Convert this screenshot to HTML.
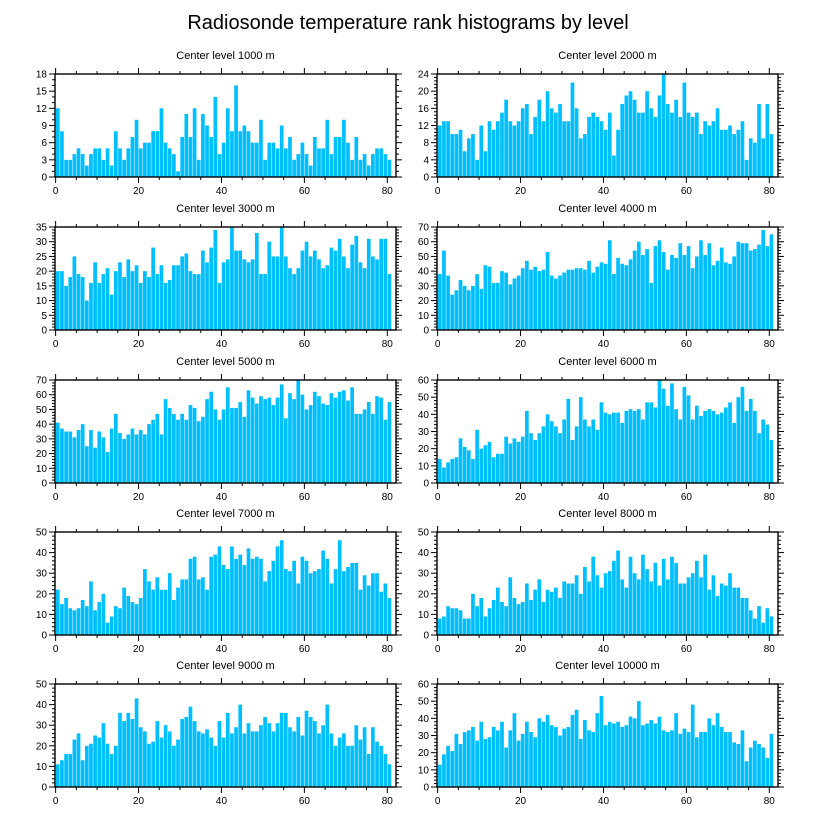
<!DOCTYPE html>
<html><head><meta charset="utf-8">
<style>
html,body{margin:0;padding:0;background:#fff;}
svg{display:block;font-family:"Liberation Sans",sans-serif;}
</style></head>
<body>
<svg id="chart" width="816" height="824" viewBox="0 0 816 824" xmlns="http://www.w3.org/2000/svg">
<text x="408" y="29" text-anchor="middle" font-size="20">Radiosonde temperature rank histograms by level</text>
</svg>
<script>
const levels = ["1000","2000","3000","4000","5000","6000","7000","8000","9000","10000"];
const yMaxes = [18,24,35,70,70,60,50,50,50,60];
const yTickSteps = [3,4,5,10,10,10,10,10,10,10];
const xTicks = [0,20,40,60,80];
const counts1000 = [12,8,3,3,4,5,4,2,4,5,5,3,5,2,8,5,3,5,7,10,5,6,6,8,8,12,6,5,4,1,7,11,7,12,3,11,9,7,14,4,6,12,8,16,8,9,8,6,6,10,3,6,6,5,9,5,7,3,4,6,4,2,7,5,5,10,4,7,7,10,6,3,7,3,4,2,4,5,5,4,3];
const counts2000 = [12,13,13,10,10,11,6,9,10,4,12,6,13,11,13,15,18,13,12,13,16,17,10,14,18,13,20,16,15,17,13,13,22,16,9,10,14,15,14,13,11,15,5,11,17,19,20,18,15,15,20,16,14,19,24,17,15,18,14,22,15,14,15,10,13,12,13,16,11,11,12,10,11,13,4,9,8,17,9,17,10];
const counts3000 = [20,20,15,18,25,19,18,10,16,23,16,19,21,12,20,23,18,24,20,22,16,20,18,28,19,22,16,17,22,22,25,26,20,19,19,27,23,28,34,16,23,24,35,27,27,24,23,24,33,19,19,30,25,25,35,25,21,19,21,27,30,25,27,24,21,22,28,27,31,25,21,29,32,23,21,31,25,24,31,31,19];
const counts4000 = [38,54,37,24,27,34,30,27,30,38,28,44,43,32,32,40,39,31,35,37,42,47,41,43,40,41,53,37,35,37,39,41,41,42,42,41,47,39,43,46,45,61,38,49,45,44,48,54,60,51,55,32,57,61,53,41,51,49,59,51,57,42,50,61,51,59,44,47,56,46,45,50,60,59,59,54,55,58,68,57,65];
const counts5000 = [41,37,35,35,31,36,40,25,36,24,35,31,21,37,47,34,30,33,37,33,36,33,40,43,47,33,57,51,47,43,47,43,53,51,42,45,57,62,50,43,50,65,51,51,55,45,63,58,54,59,57,58,53,58,67,44,61,57,70,60,50,53,62,59,54,53,61,58,62,63,56,65,47,47,50,55,47,59,58,43,55];
const counts6000 = [14,9,12,14,15,26,21,19,14,31,20,22,24,15,17,17,27,23,26,24,27,42,29,25,29,33,40,36,33,29,37,49,25,33,50,37,33,37,31,47,41,40,41,41,35,42,43,42,43,37,47,47,44,60,55,45,58,43,37,56,51,37,45,39,42,43,42,40,41,44,47,35,50,56,42,49,42,29,37,34,25];
const counts7000 = [22,15,18,13,12,13,17,14,26,12,16,20,6,9,14,13,23,19,16,15,18,32,26,22,28,22,22,30,17,23,27,27,37,38,27,28,22,38,39,43,34,32,43,37,39,34,42,37,38,37,26,31,36,43,46,32,31,36,25,38,36,30,31,32,41,37,25,32,46,31,33,35,35,22,29,24,30,30,21,25,18];
const counts8000 = [8,9,14,13,13,12,8,8,20,14,18,9,13,17,23,16,14,28,18,15,16,25,17,22,27,16,22,21,23,18,26,25,25,29,20,33,26,38,29,23,30,31,36,41,27,23,38,30,27,39,32,26,35,24,37,27,38,35,25,25,28,30,36,28,39,22,29,19,25,24,30,23,23,18,18,12,8,14,6,13,9];
const counts9000 = [11,13,16,16,23,26,13,20,21,25,24,31,21,16,20,36,32,36,33,43,29,27,21,22,32,24,30,27,20,23,33,34,39,32,27,26,28,24,20,32,24,36,26,29,40,26,31,27,27,30,34,31,27,31,36,36,29,27,34,25,37,34,32,26,30,40,26,20,24,26,20,20,30,23,29,16,29,22,20,16,11];
const counts10000 = [13,19,24,21,31,25,32,33,35,27,38,28,29,35,33,38,23,33,43,27,31,38,32,29,40,38,42,36,35,30,34,35,42,45,28,39,33,32,43,53,36,38,37,38,35,36,41,40,50,36,37,39,37,41,33,32,33,43,31,34,32,48,29,32,32,40,36,43,35,32,32,26,25,33,15,23,27,25,23,17,31];
const allCounts = [counts1000,counts2000,counts3000,counts4000,counts5000,counts6000,counts7000,counts8000,counts9000,counts10000];

const NS = "http://www.w3.org/2000/svg";
const svg = document.getElementById("chart");
function mk(tag, attrs, parent){
  const e = document.createElementNS(NS, tag);
  for (const k in attrs) e.setAttribute(k, attrs[k]);
  parent.appendChild(e);
  return e;
}
const colX = [55, 437];
const rowY = [74, 227, 380, 532, 684];
const W = 341, H = 103;
const X0 = -0.15, X1 = 82.1;

allCounts.forEach((vals, p) => {
  const left = colX[p % 2], top = rowY[Math.floor(p / 2)];
  const bottom = top + H, right = left + W;
  const ymax = yMaxes[p], step = yTickSteps[p];
  const xs = v => left + (v - X0) / (X1 - X0) * W;
  const ys = v => bottom - v / ymax * H;
  const g = mk("g", {}, svg);
  
  
  const t = mk("text", {x: (left + right) / 2, y: top - 15, "text-anchor": "middle", "font-size": 11}, g);
  
  
  t.textContent = "Center level " + levels[p] + " m";
  vals.forEach((v, i) => {
    const x0 = xs(i + 0.08), x1 = xs(i + 0.97);
    const r = mk("rect", {x: x0, y: ys(v), width: x1 - x0, height: bottom - ys(v), fill: "#00bfff"}, g);
    
    
  });
  const fr = mk("rect", {x: left, y: top, width: W, height: H, fill: "none", stroke: "#000", "stroke-width": 1.4}, g);
  
  
  for (let v = 0; v <= 80; v += 5) {
    const major = v % 20 === 0, len = major ? 6 : 3, x = xs(v);
    mk("line", {x1: x, x2: x, y1: bottom, y2: bottom + len, stroke: "#000", "stroke-width": 1}, g);
    mk("line", {x1: x, x2: x, y1: top, y2: top - len, stroke: "#000", "stroke-width": 1}, g);
  }
  xTicks.forEach(v => {
    const tl = mk("text", {x: xs(v), y: bottom + 17, "text-anchor": "middle", "font-size": 10}, g);
    
    
    tl.textContent = v;
  });
  const minor = step / (step % 3 === 0 ? 3 : 5);
  for (let v = 0; v <= ymax + 1e-9; v += minor) {
    const isMajor = Math.abs(v / step - Math.round(v / step)) < 1e-6;
    const len = isMajor ? 6 : 3, y = ys(v);
    mk("line", {x1: left, x2: left - len, y1: y, y2: y, stroke: "#000", "stroke-width": 1}, g);
    mk("line", {x1: right, x2: right + len, y1: y, y2: y, stroke: "#000", "stroke-width": 1}, g);
  }
  for (let v = 0; v <= ymax; v += step) {
    const tl = mk("text", {x: left - 8, y: ys(v) + 3.5, "text-anchor": "end", "font-size": 10}, g);
    
    
    tl.textContent = v;
  }
});
</script>
</body></html>
